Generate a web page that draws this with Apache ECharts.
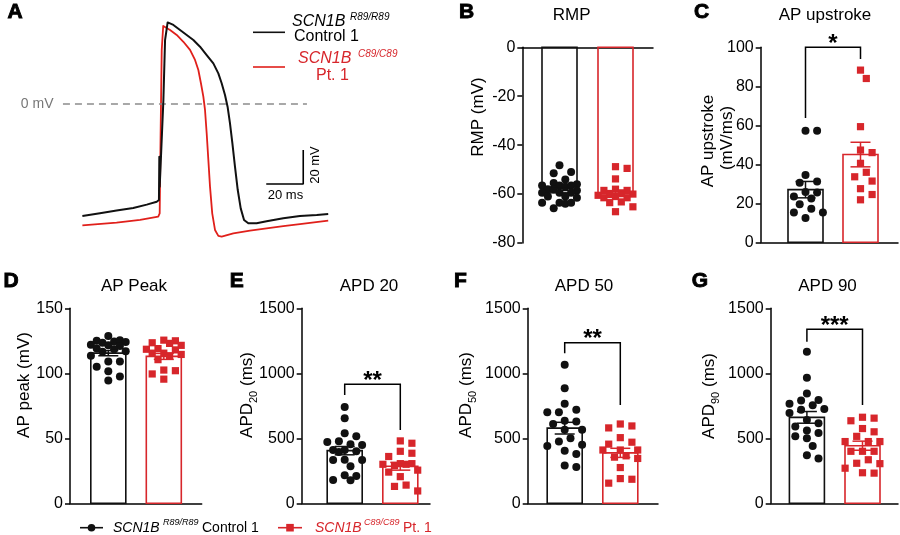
<!DOCTYPE html>
<html><head><meta charset="utf-8">
<script src="https://cdn.jsdelivr.net/npm/echarts@6.0.0/dist/echarts.min.js"></script>
<style>html,body{margin:0;padding:0;background:#fff}#c{width:900px;height:535px}</style>
</head><body><div id="c"></div><script>
// ---------------- DATA ----------------
const groups = ['SCN1B R89/R89 Control 1', 'SCN1B C89/C89 Pt. 1'];
// Panel A: action potential traces [time ms, membrane potential mV]
const traceControl = [[0.2,-65.9],[9.7,-64.3],[18.7,-62.7],[27.7,-61.2],[35.0,-59.2],[40.4,-57.5],[41.6,-56.5],[41.8,-31.0],[42.0,-48.6],[42.5,-48.6],[44.0,2.4],[44.9,37.6],[46.3,48.0],[49.4,46.5],[53.0,43.5],[56.6,40.6],[60.2,37.6],[63.8,33.7],[67.4,28.8],[71.0,23.9],[73.7,18.0],[75.5,12.2],[77.3,5.3],[78.7,-1.6],[80.0,-11.4],[81.3,-23.1],[82.7,-36.9],[84.2,-50.6],[85.8,-61.4],[87.6,-68.2],[89.9,-70.2],[94.4,-70.2],[99.8,-69.0],[108.8,-67.2],[117.8,-65.9],[126.9,-65.3],[133.1,-64.7]];
const tracePatient = [[0.2,-71.4],[18.7,-69.8],[31.4,-68.2],[41.2,-66.3],[42.0,-64.3],[42.5,-17.2],[43.1,31.8],[43.9,45.9],[47.6,43.5],[51.2,40.6],[54.8,36.6],[58.4,31.8],[61.1,25.9],[62.9,20.0],[64.3,12.2],[65.6,4.3],[66.5,-3.5],[67.4,-17.2],[68.3,-32.9],[69.2,-48.6],[70.4,-64.3],[71.9,-74.1],[73.7,-77.6],[75.5,-78.0],[81.8,-76.1],[90.8,-74.5],[99.8,-73.1],[108.8,-71.8],[117.8,-70.6],[133.1,-68.6]];
const zeroLineSpanMs = [-10.3, 121.6];
const scaleBarMs = 20, scaleBarMv = 20;
const scaleBarCorner = [119.6, -47.1];

// Panel B: RMP (mV)
const rmpControl = [-48.2,-51,-51.5,-54,-55.5,-56.5,-56.5,-56,-57,-56.5,-58,-58.5,-58,-59.5,-59.5,-59.5,-61,-61.5,-61,-63.5,-63.5,-64,-63.5,-65.8];
const rmpPatient = [-48.8,-49.5,-53.8,-58.5,-58,-58.5,-59.5,-60,-60.2,-60.5,-61,-61.5,-61.5,-63.2,-63.5,-65.2,-67.2];
const rmpMean = [-58.5, -59.8], rmpSem = [1.0, 1.2];
const rmpTicks = [-80, 0, 20];
// Panel C: AP upstroke (mV/ms)
const upstrokeControl = [57.2,57.2,34.5,30.5,31.2,25.5,25.8,23.5,22.5,19.5,17.2,15.3,15.3,12.5];
const upstrokePatient = [88.3,84,59.3,46,47.3,40.5,33.6,35.9,31.4,27.5,24.5,21.8];
const upstrokeMean = [27, 45], upstrokeSem = [4.2, 6.3];
const upstrokeTicks = [0, 100, 20];
const upstrokeBracket = [63.7, 100, 94], upstrokeStars = '*';
// Panel D: AP peak (mV)
const peakControl = [128.7,124.5,125,125.5,123.5,124,121.5,122,121,119,118.5,117,116.5,113.5,109,109,105,101.5,97.5,94.5];
const peakPatient = [125,125.5,123,123.5,121.5,118.5,118,119,115.5,115.5,114.5,113.5,110.5,102.5,102,99.5,95.5];
const peakMean = [115.5, 113], peakSem = [2.0, 2.3];
const peakTicks = [0, 150, 50];
// Panel E: APD20 (ms)
const apd20Control = [740,655,538,515,478,472,448,455,410,400,410,395,335,333,333,285,210,215,180,178];
const apd20Patient = [480,462,400,385,360,305,300,300,305,290,255,240,205,140,130,95];
const apd20Mean = [405, 285], apd20Sem = [32, 30];
const apd20Bracket = [833, 915, 564], apd20Stars = '**';
// Panel F: APD50 (ms)
const apd50Control = [1065,885,765,700,700,720,630,635,610,565,565,500,475,450,440,405,380,280,290];
const apd50Patient = [610,580,595,505,470,455,410,410,410,345,365,355,275,155,190,185];
const apd50Mean = [578, 388], apd50Sem = [45, 35];
const apd50Bracket = [1154, 1235, 756], apd50Stars = '**';
// Panel G: APD90 (ms)
const apd90Control = [1165,965,845,790,795,755,765,725,720,695,640,615,590,560,540,515,500,440,345,370];
const apd90Patient = [635,655,662,575,550,515,475,475,475,400,400,400,335,305,308,270,232,235];
const apd90Mean = [661, 443], apd90Sem = [45, 35];
const apd90Bracket = [1243, 1338, 756], apd90Stars = '***';
const apdTicks = [0, 1500, 500];

// ---------------- STYLE / LAYOUT ----------------
const FONT = '"Liberation Sans", Arial, sans-serif';
const BLACK = '#111111', RED = '#d7262b', TRACE_RED = '#e0201b';
const COLORS = [BLACK, RED];
const BAR_W = 35;

const panels = [
  {id:'B', ctrl:rmpControl, pt:rmpPatient, mean:rmpMean, sem:rmpSem, ticks:rmpTicks, lay:{left:522.3,right:653,top:47.3,bottom:243,c0:559.5,c1:615.5}},
  {id:'C', ctrl:upstrokeControl, pt:upstrokePatient, mean:upstrokeMean, sem:upstrokeSem, ticks:upstrokeTicks, bracket:upstrokeBracket, stars:upstrokeStars, lay:{left:760.7,right:898,top:47.3,bottom:242.3,c0:805.5,c1:860.5}},
  {id:'D', ctrl:peakControl, pt:peakPatient, mean:peakMean, sem:peakSem, ticks:peakTicks, lay:{left:70,right:201.7,top:308.3,bottom:503.3,c0:108.3,c1:163.8}},
  {id:'E', ctrl:apd20Control, pt:apd20Patient, mean:apd20Mean, sem:apd20Sem, ticks:apdTicks, bracket:apd20Bracket, stars:apd20Stars, lay:{left:301.7,right:430,top:308.3,bottom:503.3,c0:344.7,c1:400.3}},
  {id:'F', ctrl:apd50Control, pt:apd50Patient, mean:apd50Mean, sem:apd50Sem, ticks:apdTicks, bracket:apd50Bracket, stars:apd50Stars, lay:{left:527.7,right:658,top:308.3,bottom:503.3,c0:564.7,c1:620.3}},
  {id:'G', ctrl:apd90Control, pt:apd90Patient, mean:apd90Mean, sem:apd90Sem, ticks:apdTicks, bracket:apd90Bracket, stars:apd90Stars, lay:{left:770.7,right:898,top:308.3,bottom:503.3,c0:806.9,c1:862.5}}
];

// simple beeswarm: horizontal offsets so markers don't overlap
function swarm(values, pxPerY, pxPerX) {
  const STEP = 5.8, MIN = 9, ks = [0,1,-1,2,-2,3,-3];
  const order = values.map((v,i)=>i).sort((a,b)=>values[b]-values[a]);
  const placed = [], out = new Array(values.length);
  for (const i of order) {
    const py = values[i]*pxPerY;
    let best = 0, bestD = -1;
    for (const k of ks) {
      const px = k*STEP;
      let dmin = Infinity;
      for (const p of placed) { const d = Math.hypot(p[0]-px, p[1]-py); if (d < dmin) dmin = d; }
      if (dmin >= MIN) { best = px; break; }
      if (dmin > bestD) { bestD = dmin; best = px; }
    }
    placed.push([best, py]);
    out[i] = [best/pxPerX, values[i]];
  }
  return out;
}

const grids = [], xAxes = [], yAxes = [], series = [];
// ---- Panel A ----
grids.push({left:59.8, top:19, width:268.6, height:221});
xAxes.push({gridIndex:0, type:'value', min:-12, max:133.2, show:false});
yAxes.push({gridIndex:0, type:'value', min:-80, max:50, show:false});
series.push({type:'line', xAxisIndex:0, yAxisIndex:0, silent:true, symbol:'none', data:zeroLineSpanMs.map(t=>[t,0]), lineStyle:{color:'#8c8c8c', width:1.6, type:[7,5]}});
series.push({type:'line', xAxisIndex:0, yAxisIndex:0, silent:true, symbol:'none', data:traceControl, lineStyle:{color:BLACK, width:2, join:'round'}, z:3});
series.push({type:'line', xAxisIndex:0, yAxisIndex:0, silent:true, symbol:'none', data:tracePatient, lineStyle:{color:TRACE_RED, width:1.8, join:'round'}, z:2});
series.push({type:'line', xAxisIndex:0, yAxisIndex:0, silent:true, symbol:'none',
  data:[[scaleBarCorner[0]-scaleBarMs, scaleBarCorner[1]], scaleBarCorner, [scaleBarCorner[0], scaleBarCorner[1]+scaleBarMv]],
  lineStyle:{color:'#000', width:1.6}});

// ---- Bar panels ----
panels.forEach((p, k) => {
  const gi = k + 1, L = p.lay;
  const s = L.c1 - L.c0;
  const xmin = (L.left - L.c0)/s, xmax = (L.right - L.c0)/s;
  const [ymin, ymax, interval] = p.ticks;
  const h = L.bottom - L.top;
  const pyu = h/(ymax - ymin);
  grids.push({left:L.left, top:L.top, width:L.right-L.left, height:h});
  xAxes.push({gridIndex:gi, type:'value', min:xmin, max:xmax,
    axisLine:{show:true, onZero:true, lineStyle:{color:'#000', width:1.5}},
    axisTick:{show:false}, axisLabel:{show:false}, splitLine:{show:false}});
  yAxes.push({gridIndex:gi, type:'value', min:ymin, max:ymax, interval:interval,
    axisLine:{show:true, onZero:false, lineStyle:{color:'#000', width:1.5}},
    axisTick:{show:true, length:5, lineStyle:{color:'#000', width:1.5}},
    axisLabel:{color:'#000', fontSize:16, fontFamily:FONT, margin:7, formatter:v => String(v)},
    splitLine:{show:false}});
  // bars (mean)
  series.push({type:'custom', xAxisIndex:gi, yAxisIndex:gi, z:1, silent:true,
    data:p.mean.map((m,i)=>[i, m]),
    renderItem:(params, api) => {
      const x = api.value(0), m = api.value(1);
      const a = api.coord([x, 0]), b = api.coord([x, m]);
      return {type:'rect', shape:{x:a[0]-BAR_W/2, y:Math.min(a[1],b[1]), width:BAR_W, height:Math.abs(b[1]-a[1])},
        style:{fill:'rgba(255,255,255,0)', stroke:COLORS[params.dataIndex], lineWidth:1.6}};
    }});
  // points
  series.push({type:'scatter', xAxisIndex:gi, yAxisIndex:gi, z:2, silent:true, symbol:'circle', symbolSize:8,
    itemStyle:{color:BLACK, opacity:1}, data:swarm(p.ctrl, pyu, s).map(([o,v])=>[0+o, v])});
  series.push({type:'scatter', xAxisIndex:gi, yAxisIndex:gi, z:2, silent:true, symbol:'rect', symbolSize:7.2,
    itemStyle:{color:RED, opacity:1}, data:swarm(p.pt, pyu, s).map(([o,v])=>[1+o, v])});
  // error bars (SEM)
  series.push({type:'custom', xAxisIndex:gi, yAxisIndex:gi, z:3, silent:true,
    data:p.mean.map((m,i)=>[i, m, p.sem[i]]),
    renderItem:(params, api) => {
      const x = api.value(0), m = api.value(1), e = api.value(2);
      const t = api.coord([x, m+e]), b = api.coord([x, m-e]);
      const st = {stroke:COLORS[params.dataIndex], lineWidth:1.5};
      return {type:'group', children:[
        {type:'line', shape:{x1:t[0], y1:t[1], x2:b[0], y2:b[1]}, style:st},
        {type:'line', shape:{x1:t[0]-10, y1:t[1], x2:t[0]+10, y2:t[1]}, style:st},
        {type:'line', shape:{x1:b[0]-10, y1:b[1], x2:b[0]+10, y2:b[1]}, style:st}]};
    }});
  // significance bracket
  if (p.bracket) {
    const stars = p.stars;
    series.push({type:'custom', xAxisIndex:gi, yAxisIndex:gi, z:3, silent:true,
      data:[p.bracket],
      renderItem:(params, api) => {
        const l = api.coord([0, api.value(0)]), tl = api.coord([0, api.value(1)]);
        const tr = api.coord([1, api.value(1)]), r = api.coord([1, api.value(2)]);
        return {type:'group', children:[
          {type:'polyline', shape:{points:[l, tl, tr, r]}, style:{stroke:'#000', lineWidth:1.5, fill:null}},
          {type:'text', x:(tl[0]+tr[0])/2, y:tl[1]-3, style:{text:stars, font:'bold 24px '+FONT, fill:'#000', align:'center', verticalAlign:'middle'}}]};
      }});
  }
});

// ---------------- TEXT / GRAPHIC ----------------
function T(x, y, text, font, extra) {
  extra = extra || {};
  return {type:'text', x:x, y:y, rotation:extra.rot || 0, silent:true, z:100,
    style:Object.assign({text:text, font:font, fill:extra.color || '#000',
      align:extra.align || 'center', verticalAlign:'middle',
      textAlign:extra.align || 'center', textVerticalAlign:'middle'}, extra.style || {})};
}
const g = [];
const LETTER = '900 21px ' + FONT;
[['A',15,12],['B',466.5,12],['C',701.5,12],['D',11,281.5],['E',236.7,281.5],['F',460.5,281.5],['G',700,281.5]]
  .forEach(([t,x,y]) => g.push(T(x, y, t, LETTER, {style:{stroke:'#000', lineWidth:0.9}})));
const TITLE = '17px ' + FONT;
[['RMP',571.7,15],['AP upstroke',825,15],['AP Peak',134,286],['APD 20',369,286],['APD 50',584,286],['APD 90',827.5,286]]
  .forEach(([t,x,y]) => g.push(T(x, y, t, TITLE)));
const ROT = Math.PI/2, AXN = '17px ' + FONT;
g.push(T(478, 117, 'RMP (mV)', AXN, {rot:ROT}));
g.push(T(708.3, 141, 'AP upstroke', AXN, {rot:ROT}));
g.push(T(727, 138, '(mV/ms)', AXN, {rot:ROT}));
g.push(T(24, 385, 'AP peak (mV)', AXN, {rot:ROT}));
const subRich = {s:{fontSize:11, fontFamily:FONT, fill:'#000', verticalAlign:'bottom', lineHeight:14}};
[['20',247,395],['50',466,395],['90',709.5,396]].forEach(([n,x,y]) =>
  g.push(T(x, y, 'APD{s|' + n + '} (ms)', AXN, {rot:ROT, style:{lineHeight:24, rich:subRich}})));
// panel A annotations
g.push(T(53.5, 104.5, '0 mV', '14px ' + FONT, {align:'right', color:'#777'}));
g.push(T(285.5, 195, '20 ms', '13px ' + FONT));
g.push(T(315, 165, '20 mV', '13px ' + FONT, {rot:ROT}));
// panel A legend
g.push({type:'line', silent:true, shape:{x1:253, y1:32.3, x2:285, y2:32.3}, style:{stroke:BLACK, lineWidth:1.6}});
g.push({type:'line', silent:true, shape:{x1:253, y1:67, x2:285, y2:67}, style:{stroke:TRACE_RED, lineWidth:1.6}});
g.push(T(292, 22, 'SCN1B', 'italic 16px ' + FONT, {align:'left'}));
g.push(T(350, 17, 'R89/R89', 'italic 10px ' + FONT, {align:'left'}));
g.push(T(294, 36.7, 'Control 1', '16px ' + FONT, {align:'left'}));
g.push(T(298, 58.3, 'SCN1B', 'italic 16px ' + FONT, {align:'left', color:RED}));
g.push(T(358, 54, 'C89/C89', 'italic 10px ' + FONT, {align:'left', color:RED}));
g.push(T(316, 75.7, 'Pt. 1', '16px ' + FONT, {align:'left', color:RED}));
// bottom legend
const LY = 527.7;
g.push({type:'line', silent:true, shape:{x1:80, y1:LY, x2:103, y2:LY}, style:{stroke:BLACK, lineWidth:1.6}});
g.push({type:'circle', silent:true, shape:{cx:91.5, cy:LY, r:3.8}, style:{fill:BLACK}});
g.push({type:'line', silent:true, shape:{x1:278, y1:LY, x2:302, y2:LY}, style:{stroke:RED, lineWidth:1.6}});
g.push({type:'rect', silent:true, shape:{x:286.2, y:LY-3.8, width:7.6, height:7.6}, style:{fill:RED}});
g.push(T(113, LY, 'SCN1B', 'italic 14px ' + FONT, {align:'left'}));
g.push(T(163, LY-5, 'R89/R89', 'italic 9px ' + FONT, {align:'left'}));
g.push(T(202, LY, 'Control 1', '14px ' + FONT, {align:'left'}));
g.push(T(315, LY, 'SCN1B', 'italic 14px ' + FONT, {align:'left', color:RED}));
g.push(T(364, LY-5, 'C89/C89', 'italic 9px ' + FONT, {align:'left', color:RED}));
g.push(T(403, LY, 'Pt. 1', '14px ' + FONT, {align:'left', color:RED}));

const chart = echarts.init(document.getElementById('c'), null, {renderer:'canvas'});
chart.setOption({animation:false, backgroundColor:'#fff', grid:grids, xAxis:xAxes, yAxis:yAxes, series:series, graphic:{elements:g}});
</script></body></html>
